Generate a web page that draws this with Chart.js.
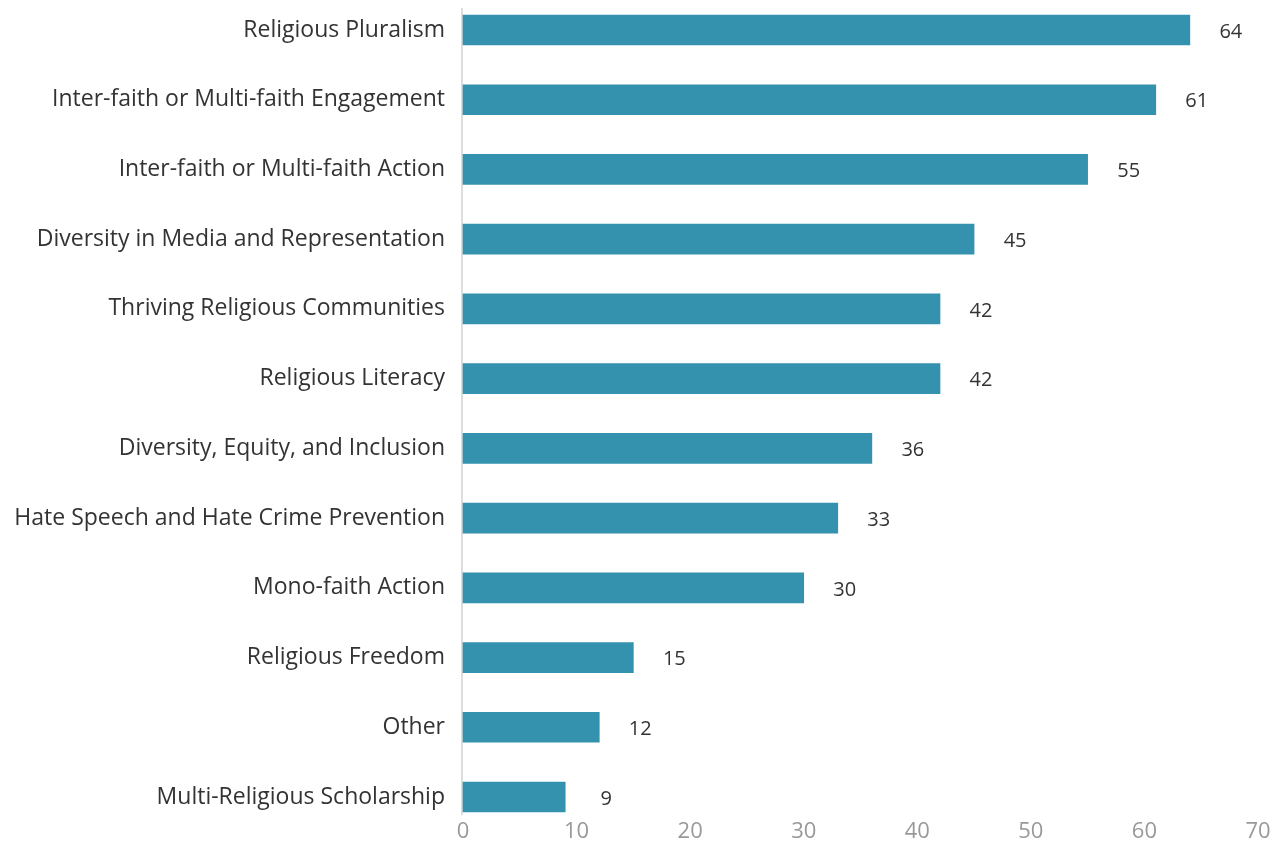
<!DOCTYPE html>
<html>
<head>
<meta charset="utf-8">
<script src="https://cdn.jsdelivr.net/npm/chart.js@4/dist/chart.umd.min.js"></script>
<style>
  html, body { margin: 0; padding: 0; background: #ffffff; }
  #wrap { width: 1286px; height: 846px; position: relative; }
</style>
</head>
<body>
<div id="wrap"><canvas id="topics"></canvas></div>
<script>
// focus areas and how many respondents picked each
const categories = [
    'Religious Pluralism',
    'Inter-faith or Multi-faith Engagement',
    'Inter-faith or Multi-faith Action',
    'Diversity in Media and Representation',
    'Thriving Religious Communities',
    'Religious Literacy',
    'Diversity, Equity, and Inclusion',
    'Hate Speech and Hate Crime Prevention',
    'Mono-faith Action',
    'Religious Freedom',
    'Other',
    'Multi-Religious Scholarship'
];
const counts = [64, 61, 55, 45, 42, 42, 36, 33, 30, 15, 12, 9];
const xTicks = [0, 10, 20, 30, 40, 50, 60, 70];

const BAR_COLOR = '#3592ae';
const FONT = "'Open Sans', 'Noto Sans', sans-serif";

// number printed just past the end of each bar
const valueLabels = {
    id: 'valueLabels',
    afterDatasetsDraw(chart) {
        const ctx = chart.ctx;
        const meta = chart.getDatasetMeta(0);
        ctx.save();
        ctx.font = '20px ' + FONT;
        ctx.fillStyle = '#333333';
        ctx.textAlign = 'center';
        ctx.textBaseline = 'middle';
        meta.data.forEach((bar, i) => {
            ctx.fillText(String(counts[i]), bar.x + 41, bar.y + 2);
        });
        ctx.restore();
    }
};

// vertical baseline at zero, a bit taller than the plot area
const zeroLine = {
    id: 'zeroLine',
    beforeDatasetsDraw(chart) {
        const ctx = chart.ctx;
        const x = chart.scales.x.getPixelForValue(0) - 1;
        ctx.save();
        ctx.strokeStyle = '#dddddd';
        ctx.lineWidth = 2;
        ctx.beginPath();
        ctx.moveTo(x, chart.chartArea.top - 22);
        ctx.lineTo(x, chart.chartArea.bottom + 18);
        ctx.stroke();
        ctx.restore();
    }
};

new Chart(document.getElementById('topics'), {
    type: 'bar',
    data: {
        labels: categories,
        datasets: [{
            data: counts,
            backgroundColor: BAR_COLOR,
            borderWidth: 0,
            barThickness: 30,
            clip: false
        }]
    },
    options: {
        indexAxis: 'y',
        responsive: true,
        maintainAspectRatio: false,
        animation: false,
        layout: { padding: { top: 30, right: 28, bottom: 0, left: 0 } },
        plugins: {
            legend: { display: false },
            tooltip: { enabled: false }
        },
        scales: {
            x: {
                min: 0,
                max: 70,
                afterBuildTicks(scale) {
                    scale.ticks = xTicks.map(v => ({ value: v }));
                },
                afterFit(scale) {
                    scale.height = 49;
                    scale.paddingRight = 0;
                },
                grid: { display: false, drawTicks: false },
                border: { display: false },
                ticks: {
                    padding: 22,
                    font: { family: FONT, size: 22 },
                    color: '#999999'
                }
            },
            y: {
                offset: false,
                afterFit(scale) {
                    scale.width = 463;
                    scale.paddingTop = 0;
                },
                grid: { display: false, drawTicks: false },
                border: { display: false },
                ticks: {
                    padding: 18,
                    font: { family: FONT, size: 23 },
                    color: '#333333'
                }
            }
        }
    },
    plugins: [zeroLine, valueLabels]
});
</script>
</body>
</html>
